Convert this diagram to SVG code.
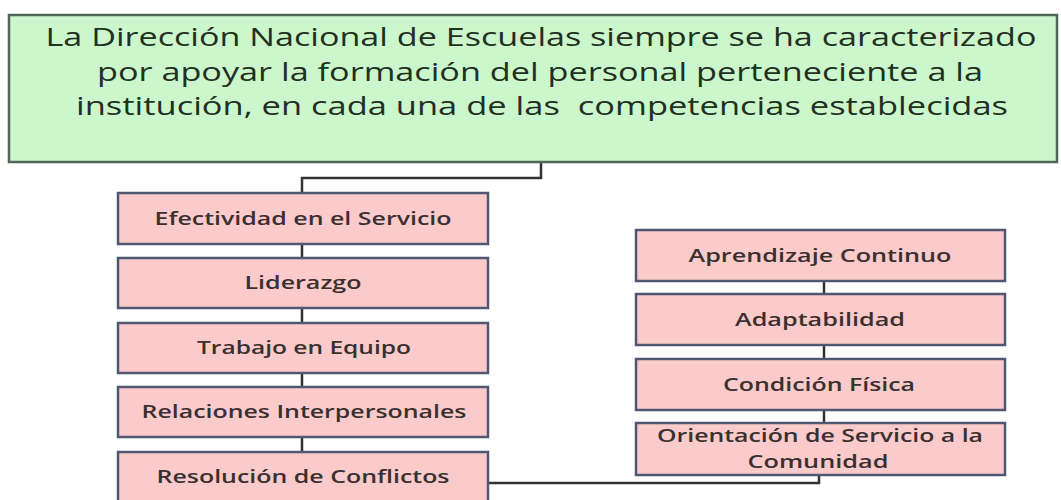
<svg xmlns="http://www.w3.org/2000/svg" width="1061" height="500" viewBox="0 0 1061 500">
<style>
.top{fill:#ccf7cc;stroke:#4f6658;stroke-width:2.5}
.box{fill:#fbcaca;stroke:#4e5870;stroke-width:2.5}
.tt{font-family:"Open Sans","Liberation Sans",sans-serif;font-size:25px;fill:#223022;text-anchor:middle;white-space:pre}
.bt{font-family:"Open Sans","Liberation Sans",sans-serif;font-size:18px;font-weight:600;fill:#3a3030;text-anchor:middle}
.con{fill:none;stroke:#333333;stroke-width:2.5}
</style>
<rect width="1061" height="500" fill="#ffffff"/>
<g id="connectors">
<polyline class="con" points="541,162 541,178 302,178 302,193"/>
<line class="con" x1="302" y1="244" x2="302" y2="258"/>
<line class="con" x1="302" y1="308" x2="302" y2="323"/>
<line class="con" x1="302" y1="373" x2="302" y2="387"/>
<line class="con" x1="302" y1="437" x2="302" y2="452"/>
<line class="con" x1="824" y1="281" x2="824" y2="294"/>
<line class="con" x1="824" y1="345" x2="824" y2="359"/>
<line class="con" x1="824" y1="410" x2="824" y2="423"/>
<polyline class="con" points="819,475 819,483 488,483"/>
</g>
<g id="top">
<rect class="top" x="9" y="15" width="1048" height="147"/>
<text class="tt" x="541" y="46" textLength="991" lengthAdjust="spacingAndGlyphs">La Dirección Nacional de Escuelas siempre se ha caracterizado</text>
<text class="tt" x="540" y="81" textLength="886" lengthAdjust="spacingAndGlyphs">por apoyar la formación del personal perteneciente a la</text>
<text class="tt" x="542" y="115" textLength="932" lengthAdjust="spacingAndGlyphs">institución, en cada una de las  competencias establecidas</text>
</g>
<g id="n1">
<rect class="box" x="118" y="193" width="370" height="51"/>
<text class="bt" x="303" y="225" textLength="297" lengthAdjust="spacingAndGlyphs">Efectividad en el Servicio</text>
</g>
<g id="n2">
<rect class="box" x="118" y="258" width="370" height="50"/>
<text class="bt" x="303" y="289" textLength="117" lengthAdjust="spacingAndGlyphs">Liderazgo</text>
</g>
<g id="n3">
<rect class="box" x="118" y="323" width="370" height="50"/>
<text class="bt" x="304" y="354" textLength="214" lengthAdjust="spacingAndGlyphs">Trabajo en Equipo</text>
</g>
<g id="n4">
<rect class="box" x="118" y="387" width="370" height="50"/>
<text class="bt" x="304" y="418" textLength="325" lengthAdjust="spacingAndGlyphs">Relaciones Interpersonales</text>
</g>
<g id="n5">
<rect class="box" x="118" y="452" width="370" height="54"/>
<text class="bt" x="303" y="483" textLength="293" lengthAdjust="spacingAndGlyphs">Resolución de Conflictos</text>
</g>
<g id="n6">
<rect class="box" x="636" y="230" width="369" height="51"/>
<text class="bt" x="820" y="262" textLength="263" lengthAdjust="spacingAndGlyphs">Aprendizaje Continuo</text>
</g>
<g id="n7">
<rect class="box" x="636" y="294" width="369" height="51"/>
<text class="bt" x="820" y="326" textLength="170" lengthAdjust="spacingAndGlyphs">Adaptabilidad</text>
</g>
<g id="n8">
<rect class="box" x="636" y="359" width="369" height="51"/>
<text class="bt" x="819" y="391" textLength="192" lengthAdjust="spacingAndGlyphs">Condición Física</text>
</g>
<g id="n9">
<rect class="box" x="636" y="423" width="369" height="52"/>
<text class="bt" x="820" y="442" textLength="326" lengthAdjust="spacingAndGlyphs">Orientación de Servicio a la</text>
<text class="bt" x="818" y="468" textLength="141" lengthAdjust="spacingAndGlyphs">Comunidad</text>
</g>
</svg>
